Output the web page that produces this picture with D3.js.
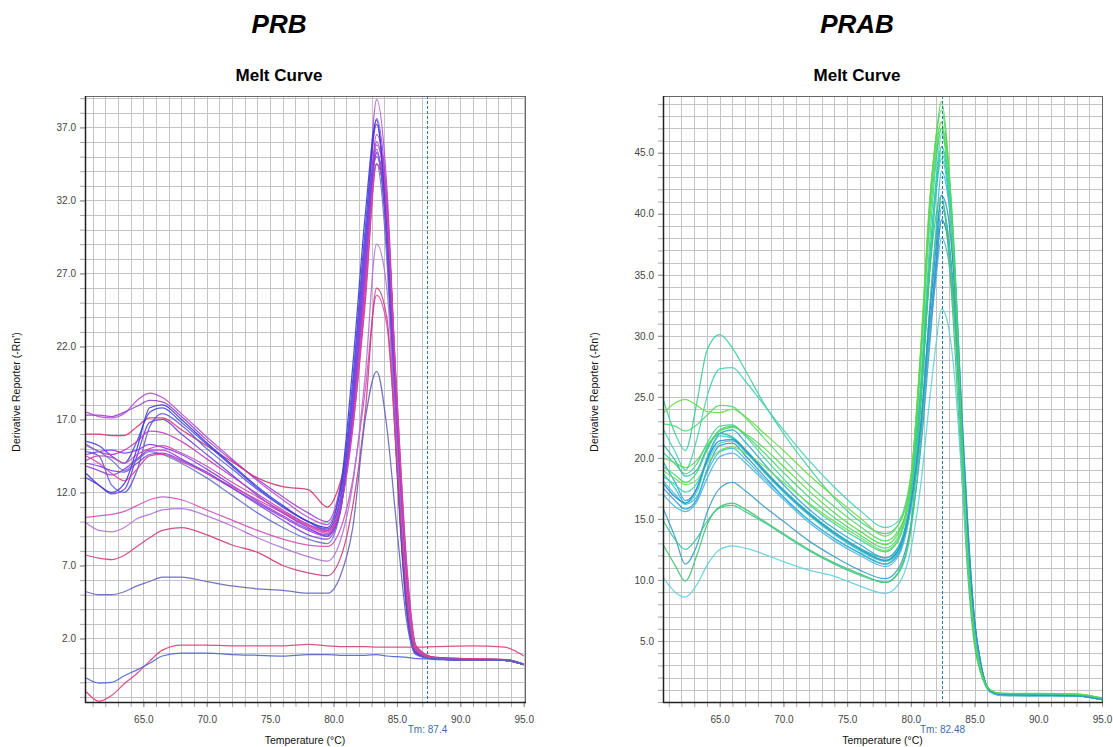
<!DOCTYPE html>
<html>
<head>
<meta charset="utf-8">
<script src="https://cdn.jsdelivr.net/npm/d3@7"></script>
<style>
  html, body { margin: 0; padding: 0; background: #fff; }
  svg { display: block; font-family: "Liberation Sans", Arial, sans-serif; }
</style>
</head>
<body>
<div id="chart"></div>
<script>
// ---- PRB panel: temperatures (°C) where each curve was read, then one row per well
const prbTemps = [60.5, 61.5, 62.5, 63.5, 64.5, 65.5, 66.5, 68, 70, 72, 74, 76, 78, 79.5, 80.5, 81.5, 82.5, 83.4, 84.2, 85, 85.8, 86.5, 88, 91, 93.5, 95];
const prbCurves = [
  [17.5, 17.2, 17.1, 17.4, 18.3, 18.8, 18.5, 17.4, 15.8, 14.3, 12.8, 11.5, 10.3, 9.8, 12.0, 18.0, 28.0, 38.9, 33.0, 18.0, 6.0, 1.4, 0.7, 0.6, 0.55, 0.25],
  [17.3, 17.3, 17.2, 17.5, 17.9, 18.3, 18.2, 17.2, 15.6, 14.2, 12.9, 11.7, 10.6, 10.0, 12.3, 18.5, 28.5, 37.6, 32.0, 17.5, 5.8, 1.3, 0.7, 0.6, 0.55, 0.25],
  [16.0, 16.0, 15.9, 15.9, 16.5, 17.1, 17.1, 16.3, 15.2, 14.1, 13.0, 12.4, 12.2, 11.0, 12.6, 16.5, 25.0, 34.5, 31.0, 18.5, 6.5, 1.5, 0.7, 0.6, 0.55, 0.25],
  [15.5, 15.2, 14.5, 14.0, 15.5, 17.5, 17.8, 16.8, 15.3, 13.8, 12.3, 11.0, 10.0, 9.4, 11.5, 19.5, 30.0, 37.2, 30.0, 14.5, 4.0, 1.0, 0.6, 0.55, 0.5, 0.2],
  [14.8, 14.5, 12.5, 12.0, 13.5, 16.5, 17.4, 16.6, 15.0, 13.6, 12.2, 11.0, 10.0, 9.5, 11.3, 19.0, 29.5, 35.5, 29.0, 14.0, 3.8, 1.0, 0.6, 0.5, 0.5, 0.2],
  [13.0, 12.5, 11.9, 12.2, 14.5, 16.8, 17.0, 16.0, 14.6, 13.2, 11.8, 10.6, 9.6, 9.0, 11.0, 18.5, 29.0, 35.0, 29.5, 15.0, 4.5, 1.1, 0.6, 0.5, 0.5, 0.2],
  [15.3, 14.8, 14.6, 14.9, 15.5, 16.2, 16.1, 15.5, 14.3, 13.1, 11.9, 10.8, 9.8, 9.3, 11.0, 17.0, 26.5, 36.5, 32.0, 17.5, 6.0, 1.3, 0.6, 0.55, 0.5, 0.25],
  [14.6, 14.8, 14.9, 14.7, 14.9, 15.3, 15.1, 14.6, 13.6, 12.5, 11.4, 10.4, 9.5, 9.1, 10.8, 17.5, 27.5, 36.0, 31.0, 16.5, 5.0, 1.2, 0.6, 0.55, 0.5, 0.2],
  [14.2, 14.5, 14.4, 14.0, 14.6, 15.0, 15.2, 14.7, 13.8, 12.7, 11.7, 10.7, 9.8, 9.4, 10.9, 16.5, 26.0, 35.8, 31.5, 17.8, 6.2, 1.4, 0.6, 0.55, 0.5, 0.25],
  [15.2, 14.8, 14.2, 13.5, 14.2, 14.8, 14.6, 14.0, 13.0, 11.8, 10.6, 9.6, 8.8, 8.5, 10.5, 18.0, 28.5, 34.5, 28.0, 13.5, 3.5, 0.9, 0.6, 0.5, 0.5, 0.2],
  [13.8, 13.5, 13.2, 13.6, 14.3, 14.9, 14.9, 14.3, 13.3, 12.3, 11.3, 10.3, 9.4, 9.0, 10.6, 17.2, 27.0, 35.3, 30.5, 16.5, 5.3, 1.2, 0.6, 0.55, 0.5, 0.2],
  [14.5, 14.0, 13.3, 12.8, 13.6, 14.5, 14.6, 14.1, 13.3, 12.4, 11.5, 10.6, 9.7, 9.2, 10.8, 16.2, 25.5, 34.5, 31.0, 18.5, 6.8, 1.5, 0.65, 0.6, 0.55, 0.25],
  [13.3, 12.5, 12.0, 12.6, 15.0, 17.8, 18.0, 17.0, 15.4, 13.9, 12.4, 11.1, 10.0, 9.6, 12.0, 20.5, 31.0, 37.5, 29.5, 14.0, 3.8, 1.0, 0.6, 0.5, 0.5, 0.2],
  [14.0, 13.8, 13.5, 13.4, 14.0, 14.6, 14.7, 14.2, 13.4, 12.3, 11.2, 10.1, 9.1, 8.8, 10.6, 18.0, 28.5, 35.2, 29.5, 15.0, 4.3, 1.1, 0.6, 0.5, 0.5, 0.2],
  [10.3, 10.4, 10.5, 10.7, 11.1, 11.5, 11.7, 11.5, 10.8, 10.1, 9.4, 8.8, 8.4, 8.3, 9.4, 12.8, 19.0, 25.5, 23.5, 14.5, 5.0, 1.3, 0.6, 0.55, 0.5, 0.25],
  [9.9, 9.4, 9.3, 9.6, 10.2, 10.5, 10.8, 10.9, 10.4, 9.7, 8.9, 8.2, 7.6, 7.3, 8.6, 12.5, 20.0, 29.0, 26.0, 15.0, 4.8, 1.2, 0.6, 0.55, 0.5, 0.2],
  [7.7, 7.5, 7.4, 7.7, 8.3, 8.9, 9.4, 9.6, 9.1, 8.4, 7.9, 7.0, 6.5, 6.3, 7.4, 11.0, 17.5, 26.0, 24.0, 14.0, 4.6, 1.2, 0.6, 0.55, 0.5, 0.2],
  [5.2, 5.0, 5.0, 5.2, 5.6, 5.9, 6.2, 6.2, 5.9, 5.6, 5.4, 5.3, 5.1, 5.1, 6.2, 9.5, 17.0, 20.3, 16.5, 9.5, 3.0, 0.9, 0.55, 0.5, 0.5, 0.2],
  [-1.65, -2.3, -1.9, -1.1, -0.4, 0.45, 1.2, 1.55, 1.55, 1.5, 1.5, 1.5, 1.6, 1.5, 1.45, 1.45, 1.45, 1.4, 1.4, 1.4, 1.4, 1.4, 1.45, 1.5, 1.4, 0.8],
  [-0.7, -1.05, -1.0, -0.55, -0.15, 0.3, 0.8, 1.0, 1.0, 0.9, 0.85, 0.8, 0.9, 0.9, 0.85, 0.85, 0.85, 0.9, 0.8, 0.75, 0.7, 0.62, 0.6, 0.55, 0.55, 0.2]
];
const prbColors = ["#b44fd0", "#9b3fd6", "#d6336e", "#4444e0", "#5a5ae0", "#6a3ee0", "#c23cc0", "#8a3ae6", "#c84ab4", "#6670cc",
  "#9c3cdc", "#d444a4", "#3c3cd8", "#7b44e2", "#d050b8", "#b070d8", "#d23c80", "#6464bc", "#d8407a", "#4a64d0"];

// ---- PRAB panel
const prabTemps = [60.5, 61.5, 62.3, 63.2, 64, 65, 66, 67, 68.5, 70, 72, 74, 76, 78, 79, 80, 80.8, 81.5, 82, 82.4, 82.9, 83.4, 84, 84.5, 85, 85.5, 86.2, 87, 90, 93, 95];
const prabCurves = [
  [25.0, 22.0, 20.6, 24.5, 28.8, 30.1, 29.0, 27.2, 24.4, 22.0, 19.2, 16.7, 14.8, 13.8, 14.5, 18.0, 25.5, 35.5, 42.0, 45.0, 42.5, 35.5, 22.5, 12.5, 5.8, 2.6, 1.0, 0.6, 0.6, 0.6, 0.25],
  [22.5, 20.5, 19.0, 21.5, 25.0, 27.3, 27.4, 26.3, 24.3, 22.3, 19.8, 17.6, 15.7, 14.3, 14.8, 18.5, 26.0, 36.0, 43.0, 46.5, 44.0, 37.0, 23.0, 13.0, 6.0, 2.7, 1.0, 0.6, 0.6, 0.55, 0.2],
  [23.6, 24.5, 24.8, 24.3, 23.8, 23.7, 24.0, 23.4, 22.0, 20.6, 18.6, 16.8, 15.1, 13.6, 14.5, 18.5, 29.0, 40.5, 45.5, 47.5, 43.5, 35.0, 21.5, 11.5, 5.2, 2.5, 1.0, 0.7, 0.65, 0.65, 0.3],
  [22.8, 22.6, 22.2, 22.7, 23.5, 24.3, 24.2, 23.3, 21.6, 19.9, 17.8, 16.0, 14.4, 13.2, 14.0, 17.5, 28.0, 39.5, 45.0, 47.0, 43.0, 34.5, 21.0, 11.3, 5.2, 2.5, 1.0, 0.7, 0.65, 0.6, 0.3],
  [19.8, 18.0, 16.5, 17.5, 20.0, 22.0, 22.3, 21.3, 19.5, 17.8, 15.8, 14.2, 12.9, 11.8, 12.6, 16.5, 22.5, 30.5, 36.5, 40.5, 38.5, 33.0, 22.5, 13.5, 6.6, 3.1, 0.9, 0.6, 0.55, 0.55, 0.2],
  [18.8, 17.5, 16.3, 17.2, 19.8, 21.8, 21.6, 20.7, 19.0, 17.4, 15.5, 13.9, 12.6, 11.6, 12.4, 16.5, 25.0, 36.0, 42.0, 44.5, 42.0, 35.0, 22.0, 12.3, 5.7, 2.6, 0.9, 0.6, 0.55, 0.5, 0.2],
  [20.5, 19.5, 18.7, 19.5, 21.2, 22.6, 22.7, 21.8, 20.0, 18.3, 16.2, 14.6, 13.3, 12.3, 13.2, 17.5, 26.5, 38.0, 44.5, 47.0, 44.5, 37.0, 23.0, 12.8, 5.9, 2.7, 1.0, 0.65, 0.6, 0.6, 0.25],
  [17.6, 16.5, 15.8, 16.6, 19.0, 21.0, 21.2, 20.2, 18.5, 16.8, 14.9, 13.4, 12.2, 11.3, 12.1, 16.0, 22.5, 31.0, 36.0, 39.5, 38.0, 32.5, 22.0, 13.0, 6.4, 3.0, 0.9, 0.6, 0.55, 0.5, 0.2],
  [19.3, 18.6, 18.0, 18.8, 20.6, 22.3, 22.6, 21.9, 20.4, 18.8, 16.8, 15.1, 13.7, 12.6, 13.5, 18.0, 29.0, 41.0, 46.5, 48.5, 44.5, 35.5, 21.5, 11.5, 5.2, 2.5, 1.0, 0.7, 0.65, 0.6, 0.3],
  [18.2, 17.0, 16.2, 16.8, 18.8, 20.5, 20.8, 19.9, 18.3, 16.8, 14.9, 13.4, 12.2, 11.3, 12.2, 16.2, 23.0, 32.5, 39.0, 43.5, 41.5, 36.0, 24.0, 14.0, 6.7, 3.1, 0.9, 0.6, 0.55, 0.5, 0.2],
  [21.2, 19.8, 18.5, 19.0, 20.8, 22.0, 21.7, 20.7, 19.0, 17.4, 15.5, 13.9, 12.6, 11.8, 12.7, 16.8, 25.5, 36.5, 42.5, 45.5, 43.0, 36.0, 22.5, 12.5, 5.8, 2.6, 1.0, 0.6, 0.6, 0.55, 0.25],
  [19.0, 18.3, 17.8, 18.2, 19.5, 20.6, 20.9, 20.4, 19.3, 18.0, 16.3, 14.8, 13.5, 12.4, 13.3, 18.0, 29.5, 41.5, 46.0, 47.5, 43.5, 35.0, 21.5, 11.5, 5.2, 2.5, 1.0, 0.7, 0.65, 0.65, 0.3],
  [17.1, 16.0, 15.6, 16.4, 18.3, 20.1, 20.4, 19.6, 18.1, 16.6, 14.7, 13.2, 12.0, 11.1, 11.9, 15.8, 22.0, 30.5, 35.0, 38.0, 36.5, 31.5, 21.5, 12.8, 6.3, 3.0, 0.9, 0.55, 0.5, 0.5, 0.2],
  [18.5, 17.8, 17.2, 17.9, 19.6, 21.2, 21.4, 20.5, 18.8, 17.2, 15.3, 13.7, 12.4, 11.5, 12.3, 16.5, 25.0, 36.0, 42.5, 45.5, 43.0, 36.0, 22.5, 12.5, 5.8, 2.6, 1.0, 0.6, 0.6, 0.55, 0.25],
  [16.0, 13.5, 11.3, 12.8, 15.5, 17.5, 18.0, 17.3, 16.0, 14.8, 13.2, 11.9, 10.8, 10.1, 10.9, 14.5, 21.0, 29.5, 35.5, 39.5, 38.0, 32.5, 22.0, 13.0, 6.4, 3.0, 0.9, 0.55, 0.5, 0.5, 0.2],
  [13.0, 11.2, 9.9, 12.0, 14.5, 16.0, 16.3, 15.8, 14.8, 13.8, 12.5, 11.4, 10.5, 9.8, 10.6, 14.5, 24.5, 35.5, 40.0, 41.5, 37.5, 30.0, 18.5, 10.0, 4.6, 2.3, 0.9, 0.6, 0.55, 0.55, 0.25],
  [10.3, 9.0, 8.6, 9.6, 11.2, 12.5, 12.8, 12.6, 12.1, 11.5, 10.8, 10.3, 9.5, 8.9, 9.6, 12.5, 18.0, 25.0, 29.5, 32.2, 31.0, 27.0, 18.5, 11.0, 5.6, 2.7, 0.8, 0.55, 0.5, 0.5, 0.2],
  [15.0, 13.3, 12.5, 13.4, 14.8, 15.9, 16.1, 15.6, 14.7, 13.7, 12.4, 11.3, 10.4, 9.8, 10.5, 14.0, 22.0, 32.5, 38.5, 41.0, 38.5, 32.0, 20.0, 11.3, 5.3, 2.5, 0.9, 0.6, 0.55, 0.5, 0.2],
  [18.0, 16.8, 16.3, 17.5, 19.8, 21.4, 21.5, 20.6, 18.9, 17.3, 15.4, 13.8, 12.5, 11.6, 12.4, 16.3, 23.0, 32.0, 37.5, 41.5, 40.0, 34.5, 23.5, 13.8, 6.7, 3.1, 0.9, 0.6, 0.55, 0.5, 0.2],
  [20.0, 19.6, 19.2, 19.8, 21.0, 22.2, 22.5, 22.0, 20.8, 19.3, 17.3, 15.5, 14.0, 12.9, 13.8, 18.0, 29.0, 41.0, 46.5, 49.2, 45.0, 36.0, 22.0, 11.7, 5.3, 2.6, 1.0, 0.7, 0.7, 0.65, 0.35]
];
const prabColors = ["#3ccf9c", "#45d0b5", "#6cdc48", "#52d86e", "#2aa6d6", "#38c6c2", "#3ed296", "#3394d0", "#44d67c", "#30bcd8",
  "#2fb6ae", "#70de5c", "#4ab4e2", "#3ad4b8", "#3a9cc6", "#3ec46e", "#5fd2da", "#3cc690", "#2c8ed2", "#58d84c"];

// ---- tick labels
const xTickLabels = [65, 70, 75, 80, 85, 90, 95];
const prbYTicks = [2, 7, 12, 17, 22, 27, 32, 37];
const prabYTicks = [5, 10, 15, 20, 25, 30, 35, 40, 45];

const width = 1113;
const height = 747;

const svg = d3.select("#chart")
    .append("svg")
    .attr("width", width)
    .attr("height", height);

svg.append("rect").attr("width", width).attr("height", height).attr("fill", "#fff");

const drawPanel = p => {
    const x = d3.scaleLinear().domain(p.xDomain).range([p.left, p.right]);
    const y = d3.scaleLinear().domain(p.yDomain).range([p.bottom, p.top]);
    const g = svg.append("g");

    // headings
    g.append("text")
        .text(p.name)
        .attr("x", p.titleX)
        .attr("y", 33)
        .attr("text-anchor", "middle")
        .style("font-size", "26px")
        .style("font-weight", "700")
        .style("font-style", "italic");

    g.append("text")
        .text("Melt Curve")
        .attr("x", p.titleX)
        .attr("y", 81)
        .attr("text-anchor", "middle")
        .style("font-size", "17px")
        .style("font-weight", "700");

    // grid every degree / every unit
    const xGrid = d3.range(Math.ceil(p.xDomain[0]), Math.floor(p.xDomain[1]) + 1);
    const yGrid = d3.range(Math.ceil(p.yDomain[0]), Math.floor(p.yDomain[1]) + 1);

    g.append("g").selectAll("line")
        .data(xGrid)
        .join("line")
        .attr("x1", d => Math.round(x(d)) + 0.5)
        .attr("x2", d => Math.round(x(d)) + 0.5)
        .attr("y1", p.top)
        .attr("y2", p.bottom)
        .attr("stroke", "#c4c4c4");

    g.append("g").selectAll("line")
        .data(yGrid)
        .join("line")
        .attr("x1", p.left)
        .attr("x2", p.right)
        .attr("y1", d => Math.round(y(d)) + 0.5)
        .attr("y2", d => Math.round(y(d)) + 0.5)
        .attr("stroke", "#c4c4c4");

    // minor ticks
    const minorY = g.append("g")
        .attr("transform", `translate(${p.left},0)`)
        .call(d3.axisLeft(y).tickValues(yGrid).tickFormat("").tickSize(5).tickSizeOuter(0));
    const minorX = g.append("g")
        .attr("transform", `translate(0,${p.bottom})`)
        .call(d3.axisBottom(x).tickValues(xGrid).tickFormat("").tickSize(5).tickSizeOuter(0));
    [minorY, minorX].forEach(a => {
        a.select(".domain").remove();
        a.selectAll("line").attr("stroke", "#a8a8a8");
    });

    // labelled ticks
    const yAxis = g.append("g")
        .attr("transform", `translate(${p.left},0)`)
        .call(d3.axisLeft(y).tickValues(p.yTicks).tickFormat(d3.format(".1f")).tickSize(5).tickPadding(4).tickSizeOuter(0));
    const xAxis = g.append("g")
        .attr("transform", `translate(0,${p.bottom})`)
        .call(d3.axisBottom(x).tickValues(xTickLabels).tickFormat(d3.format(".1f")).tickSize(5).tickPadding(9).tickSizeOuter(0));
    [yAxis, xAxis].forEach(a => {
        a.select(".domain").remove();
        a.selectAll("line").attr("stroke", "#999");
        a.selectAll("text")
            .style("font-family", "\"Liberation Sans\", Arial, sans-serif")
            .style("font-size", "10px")
            .attr("fill", "#444");
    });

    // curves
    g.append("clipPath")
        .attr("id", p.id + "-clip")
        .append("rect")
        .attr("x", p.left)
        .attr("y", p.top)
        .attr("width", p.right - p.left)
        .attr("height", p.bottom - p.top);

    const line = d3.line()
        .x((d, i) => x(p.temps[i]))
        .y(d => y(d))
        .curve(d3.curveMonotoneX);

    g.append("g")
        .attr("clip-path", `url(#${p.id}-clip)`)
        .selectAll("path")
        .data(p.curves)
        .join("path")
        .attr("d", line)
        .attr("fill", "none")
        .attr("stroke", (d, i) => p.colors[i])
        .attr("stroke-width", 1.25)
        .attr("stroke-opacity", 0.9);

    // Tm marker
    const tmX = Math.round(x(p.tm)) + 0.5;
    g.append("line")
        .attr("x1", tmX).attr("x2", tmX)
        .attr("y1", p.top).attr("y2", p.bottom)
        .attr("stroke", "#2a78a8")
        .attr("stroke-dasharray", "3,2");

    g.append("text")
        .text("Tm: " + p.tmLabel)
        .attr("x", tmX)
        .attr("y", 733)
        .attr("text-anchor", "middle")
        .style("font-size", "10px")
        .attr("fill", "#3a6ea8");

    // frame
    g.append("rect")
        .attr("x", p.left + 0.5)
        .attr("y", p.top + 0.5)
        .attr("width", p.right - p.left)
        .attr("height", p.bottom - p.top)
        .attr("fill", "none")
        .attr("stroke", "#666");
    g.append("path")
        .attr("d", `M${p.left + 0.5},${p.top}V${p.bottom + 0.5}H${p.right + 1}`)
        .attr("fill", "none")
        .attr("stroke", "#222")
        .attr("stroke-width", 1.5);

    // axis titles
    g.append("text")
        .text("Temperature (°C)")
        .attr("x", (p.left + p.right) / 2)
        .attr("y", 744)
        .attr("text-anchor", "middle")
        .style("font-size", "10.5px")
        .attr("fill", "#111");

    g.append("text")
        .text("Derivative Reporter (-Rn')")
        .attr("transform", `translate(${p.yLabelX},392) rotate(-90)`)
        .attr("text-anchor", "middle")
        .style("font-size", "10.5px")
        .attr("fill", "#111");
};

drawPanel({
    id: "prb", name: "PRB", titleX: 279, yLabelX: 20,
    left: 85, right: 525, top: 96, bottom: 702,
    xDomain: [60.4, 95.1], yDomain: [-2.35, 39.15],
    temps: prbTemps, curves: prbCurves, colors: prbColors,
    yTicks: prbYTicks, tm: 87.4, tmLabel: "87.4"
});

drawPanel({
    id: "prab", name: "PRAB", titleX: 857, yLabelX: 598,
    left: 663, right: 1102, top: 96, bottom: 702,
    xDomain: [60.55, 95.0], yDomain: [0, 49.65],
    temps: prabTemps, curves: prabCurves, colors: prabColors,
    yTicks: prabYTicks, tm: 82.48, tmLabel: "82.48"
});
</script>
</body>
</html>
